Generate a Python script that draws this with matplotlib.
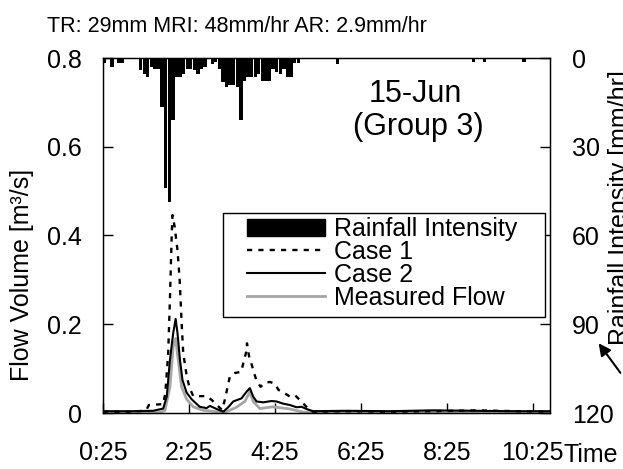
import matplotlib
matplotlib.use('Agg')
import matplotlib.pyplot as plt
from matplotlib.patches import Patch, Rectangle
from matplotlib.lines import Line2D
import numpy as np

# rainfall intensity [mm/hr], 5-minute bins starting at 0:25
rain_step = 5
rain = [1.7, 0.5, 3.0, 0.5, 1.7, 1.7, 0.5, 0.5, 0.5, 0.5,
        4.2, 5.3, 6.4, 3.0, 3.8, 3.8, 16.5, 43.9, 48.6, 21.0,
        6.4, 6.4, 5.3, 3.8, 3.8, 4.2, 5.3, 3.8, 3.0, 0.5,
        1.9, 1.4, 3.6, 8.1, 9.8, 9.2, 9.2, 9.8, 21.0, 7.9,
        6.4, 6.4, 6.4, 5.3, 7.9, 7.9, 7.9, 3.6, 4.7, 5.3,
        3.6, 6.4, 6.4, 1.6, 1.6, 0.5, 0.5, 0, 0, 0,
        0, 0, 0, 0, 0, 1.9, 0, 0, 0, 0,
        0, 0, 0, 0, 0, 0, 0, 0, 0, 0,
        0, 0, 0, 0, 0, 0, 0, 0, 0, 0,
        0, 0, 0, 0, 0, 0, 0, 0, 0, 0,
        0, 0, 0, 1.5, 0, 0, 1.5, 0, 0, 0,
        0, 0, 0, 0, 0, 0, 0, 1.5, 0, 0,
        0, 0, 0, 0, 0]

# flow volume [m3/s], time in minutes after 0:25
case1_t = [0, 35, 60, 64, 84, 87, 91, 93.5, 96, 97, 100, 104, 107, 110, 112,
           117, 121, 126, 145, 152, 159, 166, 170, 177, 184, 193, 197, 200,
           201, 204, 207, 211, 214, 220, 226, 233, 240, 245, 252, 261, 268,
           275, 284, 293, 340, 400, 460, 520, 580, 624]
case1_q = [0.003, 0.003, 0.005, 0.018, 0.02, 0.045, 0.135, 0.26, 0.405, 0.446,
           0.42, 0.367, 0.30, 0.195, 0.135, 0.082, 0.056, 0.038, 0.038, 0.029,
           0.018, 0.007, 0.029, 0.082, 0.09, 0.093, 0.12, 0.138, 0.157, 0.127,
           0.112, 0.09, 0.074, 0.059, 0.068, 0.07, 0.066, 0.052, 0.046, 0.037,
           0.04, 0.029, 0.014, 0.003, 0.004, 0.003, 0.004, 0.006, 0.004, 0.003]

case2_t = [0, 40, 70, 84, 89, 93.5, 98, 101.4, 104, 107.4, 111, 116.7, 123.7,
           135, 144.6, 149.3, 158.6, 168, 174.8, 181.8, 193.4, 200.4, 205,
           209.7, 214.3, 223.6, 235.2, 242.2, 251.6, 260.9, 270.2, 277.2,
           284.1, 293.4, 340, 400, 460, 520, 580, 624]
case2_q = [0.004, 0.004, 0.005, 0.01, 0.037, 0.12, 0.18, 0.212, 0.18, 0.12,
           0.074, 0.046, 0.031, 0.014, 0.011, 0.016, 0.009, 0.003, 0.013,
           0.026, 0.033, 0.048, 0.056, 0.037, 0.026, 0.024, 0.027, 0.026,
           0.021, 0.018, 0.013, 0.014, 0.009, 0.004, 0.005, 0.004, 0.006,
           0.005, 0.004, 0.004]

meas_t = [0, 40, 80, 86.5, 93.5, 98, 101.4, 105, 109.7, 116.7, 126, 140,
          158.6, 172.5, 186.4, 198, 205, 209.7, 219, 237.6, 260.9, 279.5,
          340, 400, 460, 520, 580, 624]
meas_q = [0.002, 0.002, 0.002, 0.006, 0.059, 0.15, 0.168, 0.12, 0.059, 0.031,
          0.014, 0.006, 0.003, 0.003, 0.013, 0.026, 0.048, 0.026, 0.01, 0.014,
          0.009, 0.002, 0.002, 0.003, 0.002, 0.003, 0.002, 0.002]

x_ticks = [0, 120, 240, 360, 480, 600]
x_labels = ['0:25', '2:25', '4:25', '6:25', '8:25', '10:25']
flow_ticks = [0, 0.2, 0.4, 0.6, 0.8]
flow_labels = ['0', '0.2', '0.4', '0.6', '0.8']
rain_ticks = [0, 30, 60, 90, 120]

W, H = 623, 469
GRAY = '#a6a6a6'
DASH = (0, (2.2, 2.6))


def main():
    plt.rcParams['font.family'] = ['Liberation Sans', 'DejaVu Sans']

    fig = plt.figure(figsize=(W / 100, H / 100), dpi=100)
    ax = fig.add_axes([103 / W, 1 - 413 / H, (550 - 103) / W, (413 - 58) / H])

    # flow lines
    ax.plot(meas_t, meas_q, color=GRAY, lw=2.0, zorder=2)
    ax.plot(case2_t, case2_q, color='black', lw=1.5, zorder=3)
    ax.plot(case1_t, case1_q, color='black', lw=1.7, ls=DASH, zorder=4)

    ax.set_xlim(0, 624)
    ax.set_ylim(0, 0.8)
    ax.set_xticks(x_ticks)
    ax.set_xticklabels(x_labels)
    ax.set_yticks(flow_ticks)
    ax.set_yticklabels(flow_labels)
    ax.tick_params(axis='both', direction='in', length=7, width=1, labelsize=18)
    ax.tick_params(axis='x', pad=20)
    ax.tick_params(axis='y', pad=15)
    for s in ax.spines.values():
        s.set_linewidth(1)

    # rainfall bars on inverted right axis
    ax2 = ax.twinx()
    rain_x = np.arange(len(rain)) * rain_step + rain_step / 2
    ax2.bar(rain_x, rain, width=rain_step * 0.93, color='black', linewidth=0)
    ax2.set_ylim(120, 0)
    ax2.set_yticks(rain_ticks)
    ax2.tick_params(axis='y', direction='in', length=7, width=1, labelsize=18, pad=16)

    # legend: drawn box plus frameless figure legend
    fig.add_artist(Rectangle((223 / W, 1 - 317 / H), (545 - 223) / W, (317 - 213) / H,
                             transform=fig.transFigure, facecolor='white',
                             edgecolor='black', lw=1, zorder=4))
    handles = [Patch(facecolor='black', edgecolor='black'),
               Line2D([], [], color='black', lw=1.7, ls=DASH),
               Line2D([], [], color='black', lw=1.5),
               Line2D([], [], color=GRAY, lw=2.0)]
    labels = ['Rainfall Intensity', 'Case 1', 'Case 2', 'Measured Flow']
    fig.legend(handles, labels, loc='upper left',
               bbox_to_anchor=(247 / W, 1 - 217 / H), fontsize=18,
               frameon=False, borderaxespad=0, borderpad=0,
               labelspacing=-0.04, handlelength=3.1, handletextpad=0.4,
               handleheight=0.65)

    # texts
    fig.text(237 / W, 1 - 32 / H, 'TR: 29mm MRI: 48mm/hr AR: 2.9mm/hr',
             ha='center', va='baseline', fontsize=15.5)
    fig.text(415 / W, 1 - 102 / H, '15-Jun', ha='center', va='baseline',
             fontsize=22)
    fig.text(418 / W, 1 - 135 / H, '(Group 3)', ha='center', va='baseline',
             fontsize=22)
    fig.text(10 / W, 1 - 275 / H, 'Flow Volume [m³/s]', ha='left', va='center',
             rotation=90, fontsize=18)
    fig.text(608 / W, 1 - 208 / H, 'Rainfall Intensity [mm/hr]', ha='left',
             va='center', rotation=90, fontsize=18)
    fig.text(563 / W, 1 - 462 / H, 'Time', ha='left', va='baseline', fontsize=18)
    ax2.annotate('', xy=(597, H - 341), xycoords='figure pixels',
                 xytext=(622, H - 375), textcoords='figure pixels',
                 arrowprops=dict(arrowstyle='-|>', color='black', lw=1.5,
                                 mutation_scale=18))

    fig.savefig('out.png', dpi=100)


if __name__ == "__main__":
    main()
